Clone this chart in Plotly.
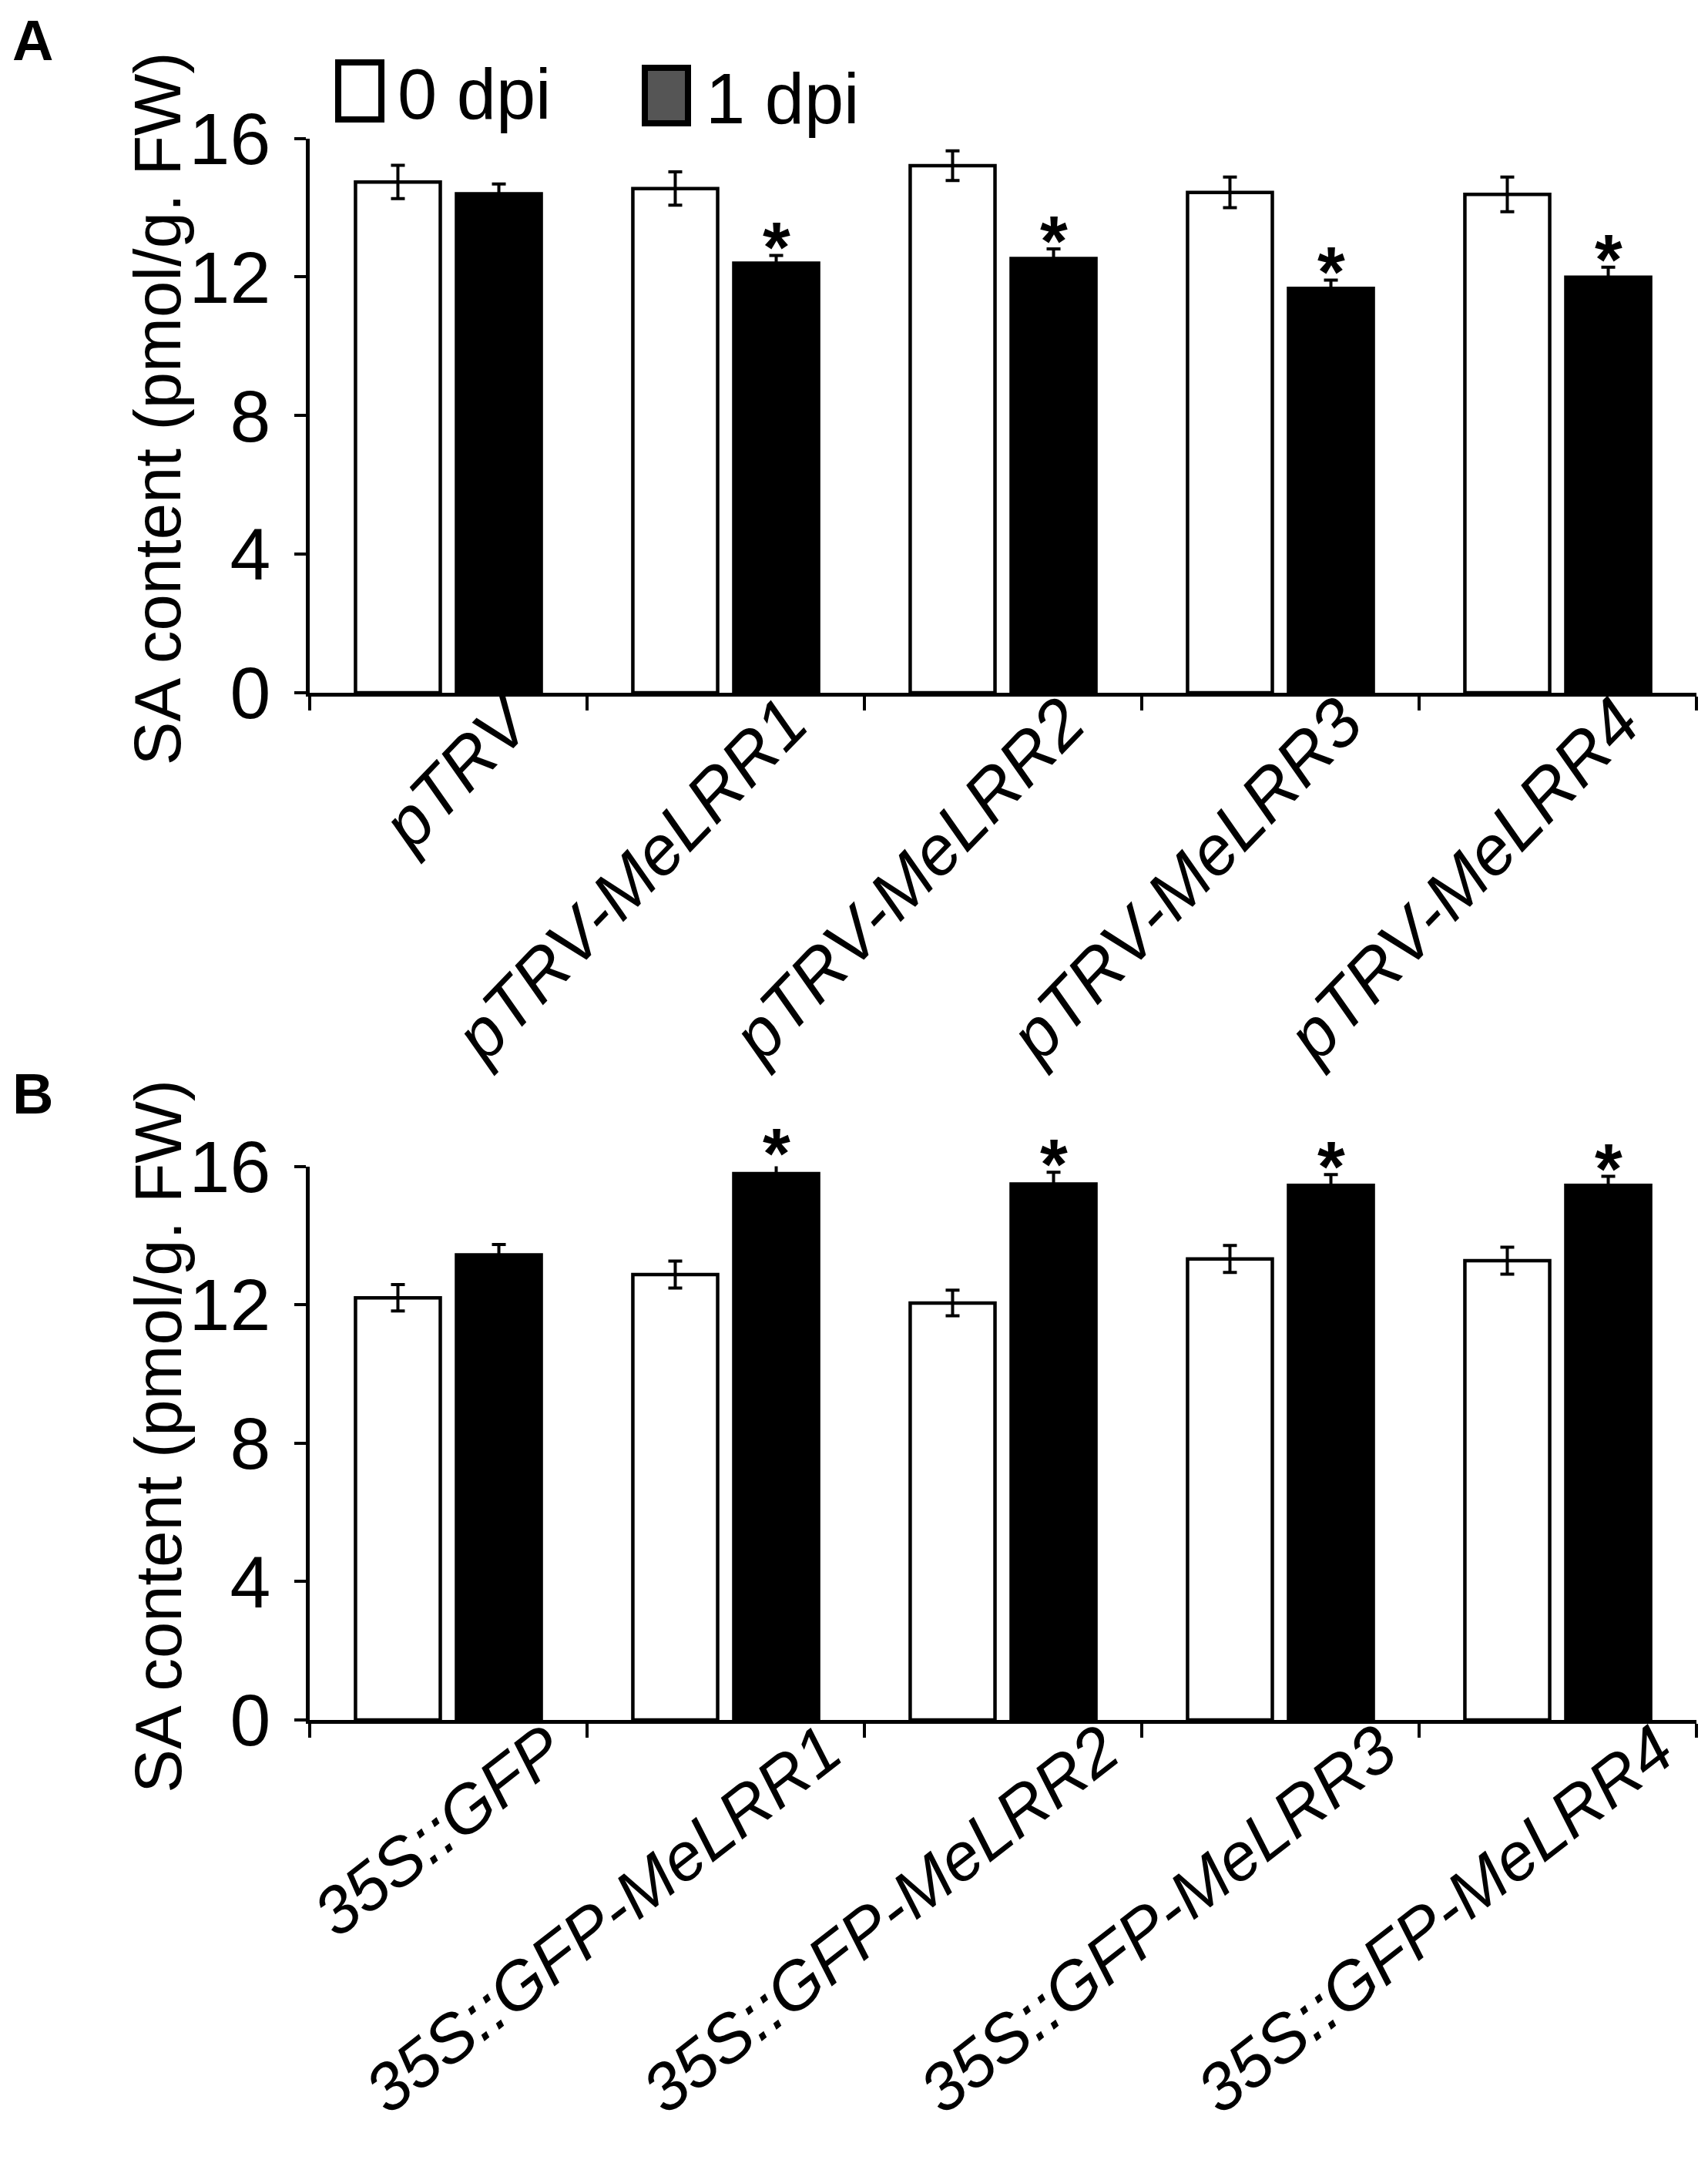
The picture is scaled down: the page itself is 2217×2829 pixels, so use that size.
import plotly.graph_objects as go

# ---- data ----
groups_a = ["pTRV", "pTRV-MeLRR1", "pTRV-MeLRR2", "pTRV-MeLRR3", "pTRV-MeLRR4"]
groups_b = ["35S::GFP", "35S::GFP-MeLRR1", "35S::GFP-MeLRR2",
            "35S::GFP-MeLRR3", "35S::GFP-MeLRR4"]
series_names = ["0 dpi", "1 dpi"]

a_0dpi = [14.74, 14.55, 15.21, 14.44, 14.38]
a_0dpi_err = [0.48, 0.48, 0.43, 0.44, 0.50]
a_1dpi = [14.40, 12.40, 12.53, 11.67, 11.99]
a_1dpi_err = [0.28, 0.22, 0.28, 0.24, 0.29]
a_sig = [False, True, True, True, True]

b_0dpi = [12.20, 12.87, 12.05, 13.32, 13.27]
b_0dpi_err = [0.38, 0.39, 0.37, 0.39, 0.39]
b_1dpi = [13.44, 15.79, 15.49, 15.45, 15.45]
b_1dpi_err = [0.30, 0.36, 0.34, 0.31, 0.26]
b_sig = [False, True, True, True, True]

y_ticks = [0, 4, 8, 12, 16]
y_max = 16
y_title = "SA content (pmol/g. FW)"

W, H = 2217, 2829
FONT = "Liberation Sans, Arial, sans-serif"
BARGAP = 0.272
BARGROUPGAP = 0.16


def px_x(v):
    return v / W


def px_y(v):
    return 1 - v / H


fig = go.Figure()

panels = [
    ("x", "y", groups_a, a_0dpi, a_0dpi_err, a_1dpi, a_1dpi_err, a_sig),
    ("x2", "y2", groups_b, b_0dpi, b_0dpi_err, b_1dpi, b_1dpi_err, b_sig),
]

for xa, ya, groups, v0, e0, v1, e1, sig in panels:
    xs = list(range(len(groups)))
    fig.add_trace(go.Bar(
        x=xs, y=v0, name=series_names[0], xaxis=xa, yaxis=ya,
        marker=dict(color="white", line=dict(color="black", width=4.5)),
        error_y=dict(type="data", array=e0, color="black", thickness=4, width=9),
        showlegend=False))
    fig.add_trace(go.Bar(
        x=xs, y=v1, name=series_names[1], xaxis=xa, yaxis=ya,
        marker=dict(color="black", line=dict(color="black", width=4.5)),
        error_y=dict(type="data", array=e1, color="black", thickness=4, width=9),
        showlegend=False))
    # significance stars above the 1 dpi bars (domain ref so they may sit above 16)
    shift = (1 - BARGAP) / 4
    for i in xs:
        if sig[i]:
            fig.add_annotation(text="<b>*</b>", showarrow=False,
                               xref=xa, yref=ya + " domain",
                               x=i + shift, y=(v1[i] + e1[i]) / y_max,
                               xanchor="center", yanchor="middle", yshift=10,
                               font=dict(family=FONT, size=92, color="black"))

x_dom = [px_x(394), px_x(2194)]


def xaxis_cfg(groups, anchor, offset, angle, standoff, size):
    return dict(
        domain=x_dom, anchor=anchor, range=[-0.5, len(groups) - 0.5],
        automargin=False,
        tickmode="array", tickvals=[i + offset for i in range(len(groups))],
        ticktext=["<i>%s</i>" % g for g in groups], tickangle=angle,
        ticks="", showline=True, linecolor="black", linewidth=4.5,
        showgrid=False, zeroline=False, ticklabelstandoff=standoff,
        tickfont=dict(family=FONT, size=size, color="black"),
        minor=dict(tickvals=[i - 0.5 for i in range(len(groups) + 1)],
                   ticks="outside", ticklen=18, tickwidth=4, tickcolor="black",
                   showgrid=False),
    )


def yaxis_cfg(dom, anchor):
    return dict(
        domain=dom, anchor=anchor, range=[0, y_max], automargin=False,
        tickmode="array", tickvals=y_ticks,
        ticks="outside", ticklen=15, tickwidth=4, tickcolor="black",
        showline=True, linecolor="black", linewidth=4.5,
        showgrid=False, zeroline=False, ticklabelstandoff=12,
        tickfont=dict(family=FONT, size=95, color="black"),
    )


fig.update_layout(
    width=W, height=H,
    margin=dict(l=0, r=0, t=0, b=0, autoexpand=False),
    paper_bgcolor="white", plot_bgcolor="white",
    barmode="group", bargap=BARGAP, bargroupgap=BARGROUPGAP,
    xaxis=xaxis_cfg(groups_a, "y", 0.22, -46, -55, 90),
    yaxis=yaxis_cfg([px_y(891), px_y(171.5)], "x"),
    xaxis2=xaxis_cfg(groups_b, "y2", 0.36, -38, -50, 87),
    yaxis2=yaxis_cfg([px_y(2224), px_y(1505.5)], "x2"),
    font=dict(family=FONT, color="black"),
)

# y titles and panel letters
for yc, xc, letter, ly in [((891 + 171.5) / 2 - 9, 196, "A", 44),
                           ((2224 + 1505.5) / 2 - 9, 198, "B", 1411)]:
    fig.add_annotation(text=y_title, textangle=-90, showarrow=False,
                       xref="paper", yref="paper", x=px_x(xc), y=px_y(yc),
                       xanchor="center", yanchor="middle",
                       font=dict(family=FONT, size=85, color="black"))
    fig.add_annotation(text="<b>%s</b>" % letter, showarrow=False,
                       xref="paper", yref="paper", x=px_x(6), y=px_y(ly),
                       xanchor="left", yanchor="middle",
                       font=dict(family=FONT, size=74, color="black"))

# legend drawn by hand (large swatches)
legend_items = [(431, 487, 73, 147, "white", series_names[0], 506),
                (829, 885, 80, 152, "#555555", series_names[1], 906)]
for x0, x1, y0, y1, fill, label, tx in legend_items:
    fig.add_shape(type="rect", xref="paper", yref="paper",
                  x0=px_x(x0), x1=px_x(x1), y0=px_y(y1), y1=px_y(y0),
                  fillcolor=fill, line=dict(color="black", width=8))
    fig.add_annotation(text=label, showarrow=False, xref="paper", yref="paper",
                       x=px_x(tx), y=px_y((y0 + y1) / 2 + 4),
                       xanchor="left", yanchor="middle",
                       font=dict(family=FONT, size=92, color="black"))

fig.write_html("out.html")
